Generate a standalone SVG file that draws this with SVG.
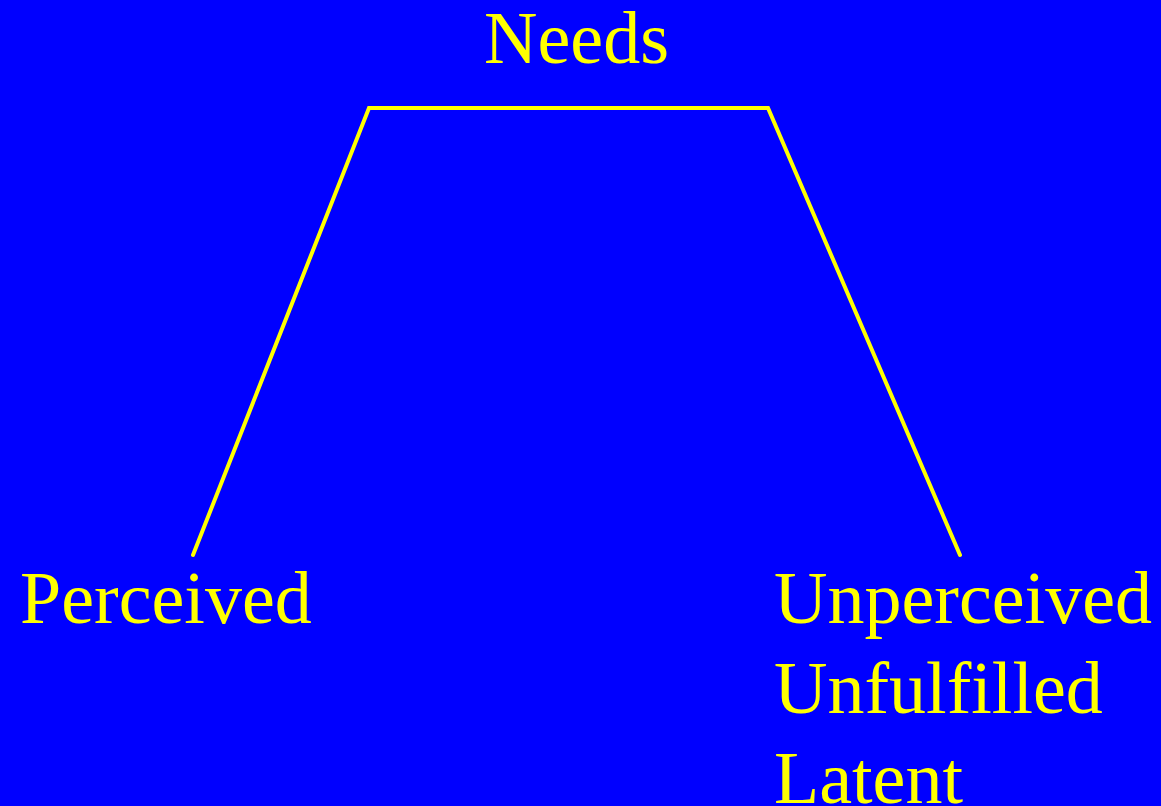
<svg xmlns="http://www.w3.org/2000/svg" width="1161" height="806" viewBox="0 0 1161 806">
<style>
.t{font-family:"Liberation Serif","Times New Roman",serif;font-size:74px;fill:#FFFF00}
.c{fill:none;stroke:#FFFF00;stroke-width:4;stroke-linecap:round;stroke-linejoin:miter}
</style>
<rect width="1161" height="806" fill="#0000FF"/>
<g id="connectors">
<polyline class="c" points="193,555 369,108 768,108 960,555"/>
</g>
<g id="needs"><text class="t" x="484" y="63">Needs</text></g>
<g id="perceived"><text class="t" x="20" y="623">Perceived</text></g>
<g id="unperceived"><text class="t" x="774" y="623">Unperceived</text><text class="t" x="774" y="713">Unfulfilled</text><text class="t" x="774" y="803">Latent</text></g>
</svg>
